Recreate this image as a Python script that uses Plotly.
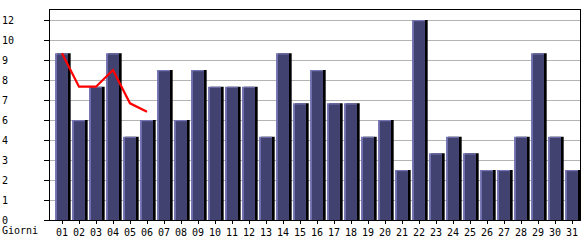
import plotly.graph_objects as go

days = [f"{d:02d}" for d in range(1, 32)]
visits = [10, 6, 8, 10, 5, 6, 9, 6, 9, 8, 8, 8, 5, 10, 7, 9, 7, 7, 5, 6,
          3, 12, 4, 5, 4, 3, 3, 5, 10, 5, 3]
trend_days = ["01", "02", "03", "04", "05", "06"]
trend = [10, 8, 8, 9, 7, 6.5]
ytick_vals = [0, 1.2, 2.4, 3.6, 4.8, 6.0, 7.2, 8.4, 9.6, 10.8, 12.0]
ytick_text = ["0", "1", "2", "3", "4", "6", "7", "8", "9", "10", "12"]

FONT = "DejaVu Sans Mono"
BODY = "#424270"
LIGHT = "#7474b4"

fig = go.Figure()
# black shadow
fig.add_trace(go.Bar(x=days, y=visits, offset=-0.29, width=0.80,
                     marker=dict(color="#000000", line=dict(width=0)),
                     hoverinfo="skip"))
# light edge
fig.add_trace(go.Bar(x=days, y=visits, offset=-0.41, width=0.76,
                     marker=dict(color=LIGHT, line=dict(width=0)),
                     hoverinfo="skip"))
# body
fig.add_trace(go.Bar(x=days, y=[v - 0.07 for v in visits], offset=-0.30, width=0.65,
                     marker=dict(color=BODY, line=dict(width=0))))
fig.add_trace(go.Scatter(x=trend_days, y=trend, mode="lines",
                         line=dict(color="#ff0000", width=2.2)))

fig.update_layout(
    width=585, height=240,
    margin=dict(l=50, r=5, t=10, b=20, pad=0, autoexpand=False),
    barmode="overlay",
    showlegend=False,
    plot_bgcolor="white", paper_bgcolor="white",
    font=dict(family=FONT, size=10, color="#000000"),
    xaxis=dict(type="category", categoryorder="array", categoryarray=days,
               range=[-0.706, 30.47], showgrid=False, automargin=False,
               showline=True, linecolor="#000000", linewidth=1, mirror=True,
               ticks="outside", ticklen=3, tickcolor="#000000",
               tickfont=dict(family=FONT, size=10), zeroline=False),
    yaxis=dict(range=[0, 12.6], tickmode="array", tickvals=ytick_vals,
               ticktext=[t + "\u00a0" * (2 - len(t)) for t in ytick_text],
               showgrid=True, gridcolor="#b4b4b4", gridwidth=1, automargin=False,
               showline=True, linecolor="#000000", linewidth=1, mirror=True,
               ticks="outside", ticklen=5, tickcolor="#000000",
               ticklabelstandoff=28,
               tickfont=dict(family=FONT, size=10), zeroline=False),
    annotations=[dict(text="Giorni", xref="paper", yref="paper",
                      x=-50/530, y=-10/210, xanchor="left", yanchor="middle",
                      showarrow=False, font=dict(family=FONT, size=10))],
)

fig.write_html("out.html")
